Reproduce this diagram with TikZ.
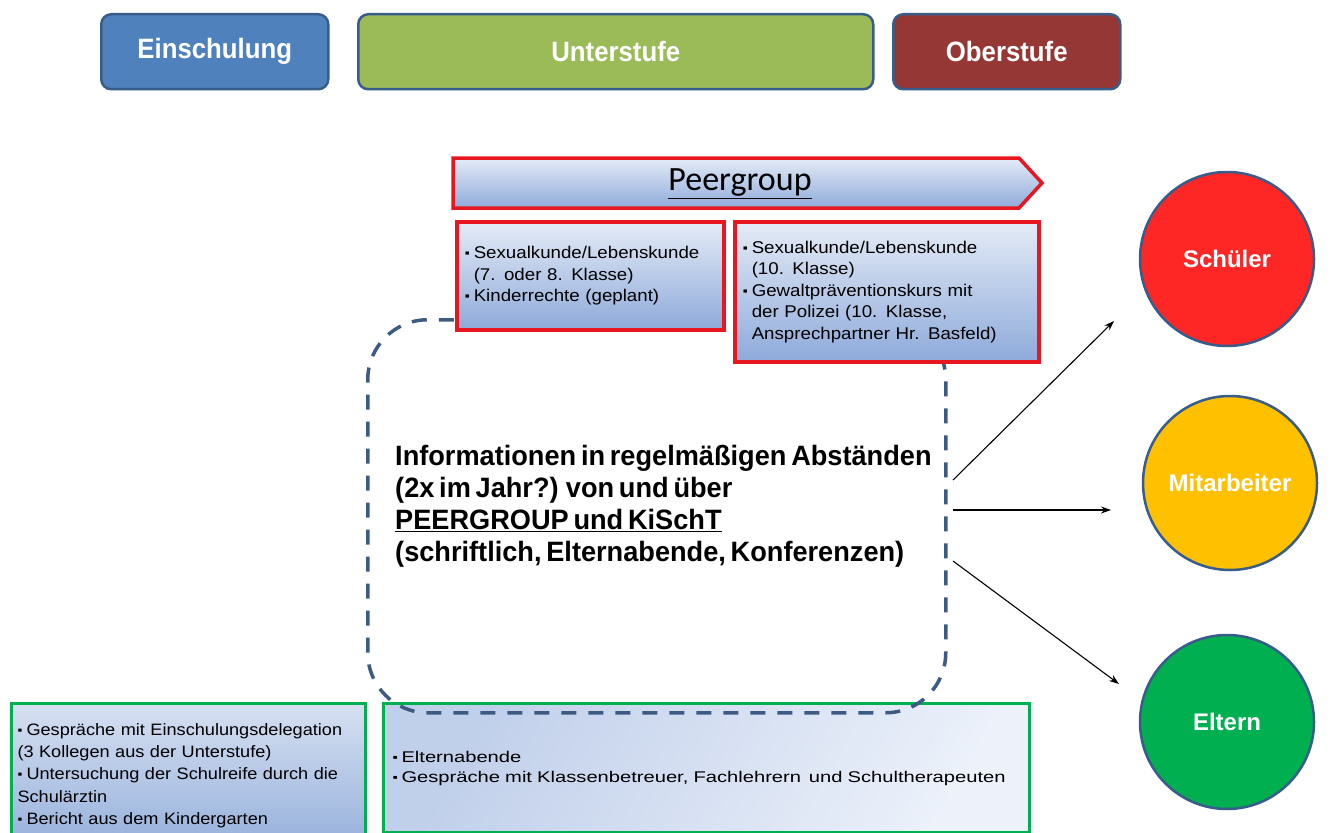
\documentclass[tikz,border=0pt]{standalone}
\usepackage{fontspec}
\setmainfont{Liberation Sans}
\newfontfamily\condb{Liberation Sans}[FakeStretch=0.92]
\newfontfamily\infof{Liberation Sans}[FakeStretch=0.97]
\newfontfamily\widef{Liberation Sans}[FakeStretch=1.1]
\newfontfamily\widerf{Liberation Sans}[FakeStretch=1.3]
\newfontfamily\calib{Carlito}
\usetikzlibrary{arrows.meta}
\definecolor{einblue}{RGB}{79,129,189}
\definecolor{unterg}{RGB}{155,187,89}
\definecolor{oberred}{RGB}{149,55,53}
\definecolor{bordblue}{RGB}{56,93,138}
\definecolor{redline}{RGB}{232,22,30}
\definecolor{greenline}{RGB}{0,176,80}
\definecolor{gradtop}{RGB}{228,235,246}
\definecolor{gradbot}{RGB}{142,170,218}
\definecolor{dashblue}{RGB}{60,90,130}
\definecolor{cred}{RGB}{255,38,38}
\definecolor{corange}{RGB}{255,192,0}
\definecolor{cgreen}{RGB}{0,176,80}
\newcommand\bul{\makebox[9pt][l]{\raisebox{1pt}{\scalebox{0.75}{▪}}}}
\newcommand\ind{\hspace*{9pt}}
\newcommand\tightsp{\spaceskip=0.17em plus 0.05em\relax}
\begin{document}
\begin{tikzpicture}[x=1pt,y=-1pt,
  stage/.style={draw=bordblue, line width=2.5pt, rounded corners=10pt, minimum height=75pt, anchor=north west, inner sep=0pt, text=white, font=\condb\bfseries\fontsize{28}{30}\selectfont},
  redbox/.style={draw=redline, line width=3.5pt, top color=gradtop, bottom color=gradbot, anchor=north west, inner xsep=8pt, inner ysep=0pt, align=left, font=\widef\fontsize{17}{21.5}\selectfont},
  greenbox/.style={draw=greenline, line width=3pt, anchor=north west, inner xsep=6pt, inner ysep=0pt, align=left, font=\widef\fontsize{16.5}{22.3}\selectfont},
  target/.style={circle, draw=bordblue, line width=2.5pt, minimum size=174pt, inner sep=0pt, text=white, font=\bfseries\fontsize{24}{28}\selectfont},
  conn/.style={-{Stealth[length=10pt,width=7pt]}, line width=1.1pt, black}
]
\useasboundingbox (0,0) rectangle (1340,832);
% stage bars
\node[stage, fill=einblue, minimum width=227pt] (ein) at (100,13) {Einschulung};
\node[stage, fill=unterg, minimum width=515pt] (unter) at (357,13) {Unterstufe};
\node[stage, fill=oberred, minimum width=227pt] (ober) at (892,13) {Oberstufe};
% bottom boxes
\node[greenbox, top color={rgb,255:red,214;green,224;blue,241}, bottom color={rgb,255:red,150;green,176;blue,220}, minimum width=354pt, minimum height=144pt, text width=342pt] (einbox) at (10,702) {\bul Gespräche mit Einschulungsdelegation\\(3 Kollegen aus der Unterstufe)\\\bul Untersuchung der Schulreife durch die\\Schulärztin\\\bul Bericht aus dem Kindergarten};
\node[greenbox, shading=axis, left color={rgb,255:red,192;green,207;blue,234}, right color={rgb,255:red,236;green,241;blue,250}, shading angle=60, minimum width=646pt, minimum height=129pt, text width=628pt, inner xsep=9pt, font=\widerf\fontsize{15.5}{20}\selectfont] (elbox) at (382,702) {\bul Elternabende\\\bul Gespräche mit Klassenbetreuer, Fachlehrern\,\ und Schultherapeuten};
% dashed info frame
\node[draw=dashblue, line width=3.5pt, dash pattern=on 15pt off 12pt, rounded corners=60pt, minimum width=578pt, minimum height=393pt, anchor=north west, inner sep=0pt] (frame) at (366,318) {};
\node[anchor=north west, align=left, inner sep=0pt, font=\infof\bfseries\fontsize{28}{32}\selectfont\tightsp] (info) at (395,445) {Informationen in regelmäßigen Abständen\\(2x im Jahr?) von und über\\\underline{PEERGROUP und KiSchT}\\(schriftlich, Elternabende, Konferenzen)};
% peergroup arrow
\path[draw=redline, line width=3.5pt, top color=gradtop, bottom color=gradbot] (453,158) -- (1019,158) -- (1042,183) -- (1019,208) -- (453,208) -- cycle;
\node[font=\calib\fontsize{34}{38}\selectfont] (peer) at (740,184) {\underline{Peergroup}};
% red boxes
\node[redbox, minimum width=267pt, minimum height=108pt, text width=251pt] (b1) at (455,220) {\bul Sexualkunde/Lebenskunde\\\ind(7. oder 8. Klasse)\\\bul Kinderrechte (geplant)};
\node[redbox, minimum width=304pt, minimum height=140pt, text width=288pt] (b2) at (733,220) {\bul Sexualkunde/Lebenskunde\\\ind(10. Klasse)\\\bul Gewaltpräventionskurs mit\\\ind der Polizei (10. Klasse,\\\ind Ansprechpartner Hr. Basfeld)};
% circles
\node[target, fill=cred] (schueler) at (1227,259) {Schüler};
\node[target, fill=corange] (mitarb) at (1230,483) {Mitarbeiter};
\node[target, fill=cgreen] (eltern) at (1227,722) {Eltern};
% arrows
\coordinate (s1) at (953,480);
\coordinate (s2) at (953,510);
\coordinate (s3) at (953,561);
\coordinate (e1) at (1114,321);
\coordinate (e2) at (1111,510);
\coordinate (e3) at (1119,684);
\draw[conn] (s1) -- (e1);
\draw[conn] (s2) -- (e2);
\draw[conn] (s3) -- (e3);
\end{tikzpicture}
\end{document}
